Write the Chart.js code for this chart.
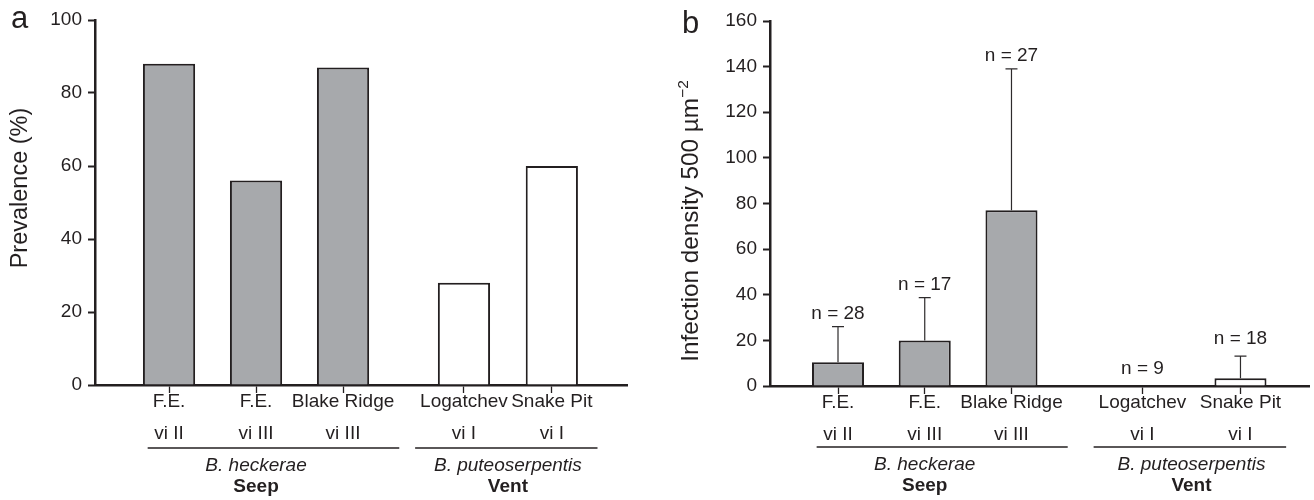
<!DOCTYPE html>
<html>
<head>
<meta charset="utf-8">
<title>Prevalence and infection density</title>
<script src="https://cdn.jsdelivr.net/npm/chart.js@4.4.1/dist/chart.umd.min.js"></script>
<style>
  body { margin: 0; background: #fff; }
  .panel { position: absolute; top: 0; }
</style>
</head>
<body>
<div class="panel" style="left:0"><canvas id="chartA" width="657" height="500"></canvas></div>
<div class="panel" style="left:657px"><canvas id="chartB" width="657" height="500"></canvas></div>
<script>
// sites, in plotting order
const siteNames = ['F.E.', 'F.E.', 'Blake Ridge', 'Logatchev', 'Snake Pit'];
const viTypes = ['vi II', 'vi III', 'vi III', 'vi I', 'vi I'];
const siteGroup = [0, 0, 0, 1, 1];
const hostSpecies = ['B. heckerae', 'B. puteoserpentis'];
const habitats = ['Seep', 'Vent'];

// panel a: prevalence (%)
const prevalence = [88, 56, 87, 28, 60];
// panel b: mean infection density and SD, sample sizes
const density = [10.4, 20, 77, 0, 3.4];
const densitySD = [15.6, 18.7, 62, 0, 9.7];
const sampleN = [28, 17, 27, 9, 18];

// x slot of each site (seep and vent sites are set apart)
const slotsA = [1, 2, 3, 4.39, 5.4];
const slotsB = [1, 2, 3, 4.51, 5.64];

const INK = '#231f20';
const FONT = '"Liberation Sans", Arial, Helvetica, sans-serif';
const groupFill = ['#a7a9ac', '#ffffff'];

Chart.defaults.font.family = FONT;
Chart.defaults.color = INK;

const font = function (size, style) {
  return `${style || ''} ${size}px ${FONT}`;
};

// rotated axis title, optional superscript parts
const drawYTitle = function (ctx, parts, cx, cy) {
  ctx.save();
  ctx.translate(cx, cy);
  ctx.rotate(-Math.PI / 2);
  ctx.fillStyle = INK;
  ctx.textBaseline = 'alphabetic';
  ctx.textAlign = 'left';
  let total = 0;
  for (const p of parts) {
    ctx.font = font(p.size);
    p.w = ctx.measureText(p.text).width;
    total += p.w;
  }
  let x = -total / 2;
  for (const p of parts) {
    ctx.font = font(p.size);
    ctx.fillText(p.text, x, -(p.rise || 0));
    x += p.w;
  }
  ctx.restore();
};

// underline + species + habitat under each group of sites
const drawGroups = function (chart, lineY) {
  const ctx = chart.ctx;
  const xs = chart.scales.x;
  ctx.save();
  ctx.font = font(19);
  for (let g = 0; g < hostSpecies.length; g++) {
    let left = Infinity, right = -Infinity, sum = 0, cnt = 0;
    siteGroup.forEach(function (grp, i) {
      if (grp !== g) return;
      const px = xs.getPixelForValue(xs.ticks[i].value);
      const w = Math.max(ctx.measureText(siteNames[i]).width, ctx.measureText(viTypes[i]).width);
      left = Math.min(left, px - w / 2 - 5);
      right = Math.max(right, px + w / 2 + 5);
      sum += px;
      cnt++;
    });
    const mid = sum / cnt;
    ctx.strokeStyle = INK;
    ctx.lineWidth = 1.5;
    ctx.beginPath();
    ctx.moveTo(left, lineY);
    ctx.lineTo(right, lineY);
    ctx.stroke();
    ctx.fillStyle = INK;
    ctx.textAlign = 'center';
    ctx.textBaseline = 'alphabetic';
    ctx.font = font(19, 'italic');
    ctx.fillText(hostSpecies[g], mid, lineY + 23);
    ctx.font = font(19, 'bold');
    ctx.fillText(habitats[g], mid, lineY + 44);
    ctx.font = font(19);
  }
  ctx.restore();
};

const makePanel = function (canvasId, cfg) {
  const ctx = document.getElementById(canvasId).getContext('2d');
  return new Chart(ctx, {
    type: 'bar',
    data: {
      datasets: [{
        data: cfg.values.map((v, i) => ({ x: cfg.slots[i], y: v })),
        backgroundColor: siteGroup.map(g => groupFill[g]),
        borderColor: INK,
        borderWidth: 2,
        borderSkipped: 'start',
        categoryPercentage: 1,
        barPercentage: 0.6
      }]
    },
    options: {
      responsive: false,
      animation: false,
      devicePixelRatio: 1,
      layout: { padding: cfg.padding },
      plugins: { legend: { display: false }, tooltip: { enabled: false } },
      scales: {
        x: {
          type: 'linear',
          min: cfg.xMin,
          max: cfg.xMax,
          offset: false,
          afterBuildTicks: function (scale) {
            scale.ticks = cfg.slots.map(v => ({ value: v }));
          },
          afterFit: function (scale) { scale.height = cfg.xHeight; },
          grid: {
            offset: false,
            drawOnChartArea: false,
            drawTicks: true,
            tickLength: 8,
            tickWidth: 1.3,
            tickColor: INK
          },
          border: { color: INK, width: 2.5 },
          ticks: {
            autoSkip: false,
            maxRotation: 0,
            padding: -7,
            color: INK,
            font: { size: 19, lineHeight: 32 / 19 },
            callback: (v, i) => [siteNames[i], viTypes[i]]
          }
        },
        y: {
          min: 0,
          max: cfg.yMax,
          afterFit: function (scale) { scale.width = cfg.yWidth; },
          grid: { drawOnChartArea: false, tickLength: 7, tickWidth: 2, tickColor: INK },
          border: { color: INK, width: 2.5 },
          ticks: { stepSize: 20, padding: 6, color: INK, font: { size: 19 } }
        }
      }
    },
    plugins: [{
      id: 'decor',
      afterDatasetsDraw: function (chart) {
        if (cfg.afterBars) cfg.afterBars(chart);
      },
      afterDraw: function (chart) {
        const c = chart.ctx;
        c.save();
        c.fillStyle = INK;
        c.font = font(31);
        c.textAlign = 'left';
        c.textBaseline = 'alphabetic';
        c.fillText(cfg.letter, cfg.letterX, cfg.letterY);
        c.restore();
        drawYTitle(c, cfg.title, cfg.titleX, cfg.titleY);
        drawGroups(chart, cfg.groupLineY);
      }
    }]
  });
};

// error bars and sample sizes on the density bars
const drawErrorBars = function (chart) {
  const c = chart.ctx;
  const ys = chart.scales.y;
  const bars = chart.getDatasetMeta(0).data;
  c.save();
  c.strokeStyle = '#2e2b2c';
  c.lineWidth = 1.2;
  c.fillStyle = INK;
  c.font = font(19);
  c.textAlign = 'center';
  c.textBaseline = 'alphabetic';
  bars.forEach(function (bar, i) {
    const base = ys.getPixelForValue(density[i]);
    const top = ys.getPixelForValue(density[i] + densitySD[i]);
    if (densitySD[i] > 0) {
      c.beginPath();
      c.moveTo(bar.x, base);
      c.lineTo(bar.x, top);
      c.moveTo(bar.x - 6, top);
      c.lineTo(bar.x + 6, top);
      c.stroke();
    }
    // short or missing whiskers get a bit more room
    const gap = densitySD[i] > 10 ? 8 : 12;
    c.fillText(`n = ${sampleN[i]}`, bar.x, top - gap);
  });
  c.restore();
};

document.addEventListener('DOMContentLoaded', function () {
  makePanel('chartA', {
    values: prevalence,
    slots: slotsA,
    xMin: 0.149,
    xMax: 6.264,
    yMax: 100,
    yWidth: 95,
    xHeight: 115,
    padding: { left: 0, top: 20, right: 30, bottom: 0 },
    letter: 'a', letterX: 11, letterY: 28,
    title: [{ text: 'Prevalence (%)', size: 23.5 }],
    titleX: 27, titleY: 188,
    groupLineY: 448
  });
  makePanel('chartB', {
    values: density,
    slots: slotsB,
    xMin: 0.216,
    xMax: 6.43,
    yMax: 160,
    yWidth: 113,
    xHeight: 114,
    padding: { left: 0, top: 21, right: 5, bottom: 0 },
    letter: 'b', letterX: 25, letterY: 33,
    title: [
      { text: 'Infection density 500 µm', size: 24.3 },
      { text: '−2', size: 15.5, rise: 10.5 }
    ],
    titleX: 41, titleY: 221,
    groupLineY: 447,
    afterBars: drawErrorBars
  });
});
</script>
</body>
</html>
